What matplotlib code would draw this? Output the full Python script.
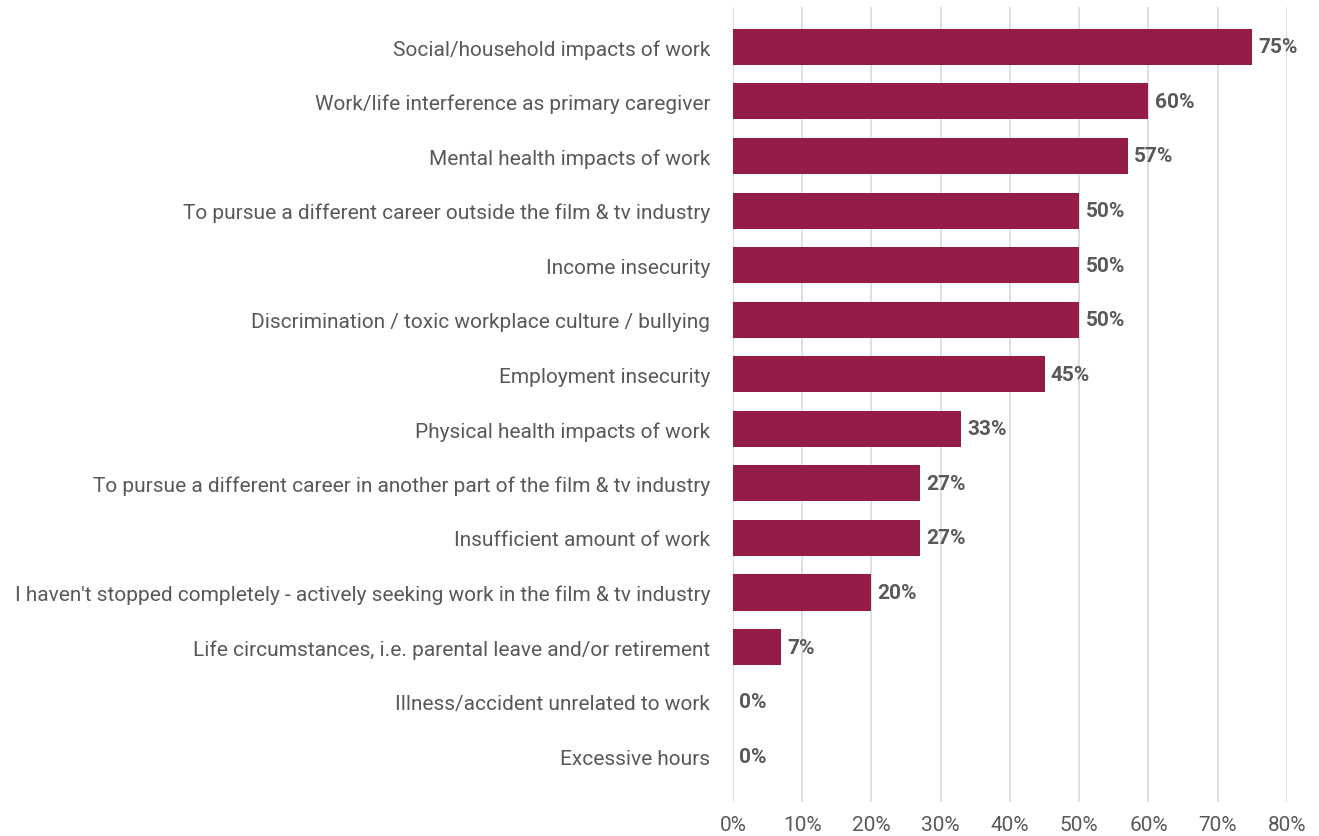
import matplotlib
matplotlib.use("Agg")
import matplotlib.pyplot as plt
from matplotlib.ticker import FuncFormatter

categories = [
    "Social/household impacts of work",
    "Work/life interference as primary caregiver",
    "Mental health impacts of work",
    "To pursue a different career outside the film & tv industry",
    "Income insecurity",
    "Discrimination / toxic workplace culture / bullying",
    "Employment insecurity",
    "Physical health impacts of work",
    "To pursue a different career in another part of the film & tv industry",
    "Insufficient amount of work",
    "I haven't stopped completely - actively seeking work in the film & tv industry",
    "Life circumstances, i.e. parental leave and/or retirement",
    "Illness/accident unrelated to work",
    "Excessive hours",
]
values = [75, 60, 57, 50, 50, 50, 45, 33, 27, 27, 20, 7, 0, 0]
value_labels = ["75%", "60%", "57%", "50%", "50%", "50%", "45%", "33%", "27%", "27%", "20%", "7%", "0%", "0%"]
xticks = [0, 10, 20, 30, 40, 50, 60, 70, 80]

plt.rcParams['font.family'] = ['Roboto', 'DejaVu Sans']
text_color = "#595959"
bar_color = "#951B48"

fig = plt.figure(figsize=(13.19, 8.37), dpi=100)
ax = fig.add_axes([0.5557, 0.0406, 0.9757 - 0.5557, 0.9904 - 0.0406])

y = list(range(len(categories)))
ax.barh(y, values, height=0.66, color=bar_color, zorder=3)
for yi, v, lab in zip(y, values, value_labels):
    ax.annotate(lab, (v, yi), xytext=(4.5, 0), textcoords="offset points",
                va="center", ha="left", fontsize=15, fontweight="bold",
                color=text_color, zorder=4)

ax.set_xlim(0, 80)
ax.set_ylim(13.84, -0.73)
ax.set_xticks(xticks)
ax.xaxis.set_major_formatter(FuncFormatter(lambda v, p: f"{int(v)}%"))
ax.set_yticks(y)
ax.set_yticklabels(categories)
ax.grid(axis="x", color="#D9D9D9", linewidth=1.2, zorder=0)
ax.grid(axis="y", visible=False)
for s in ax.spines.values():
    s.set_visible(False)
ax.tick_params(axis="x", length=0, pad=9, labelsize=15, labelcolor=text_color)
ax.tick_params(axis="y", length=0, pad=16.5, labelsize=15, labelcolor=text_color)

fig.savefig("out.png", dpi=100)
